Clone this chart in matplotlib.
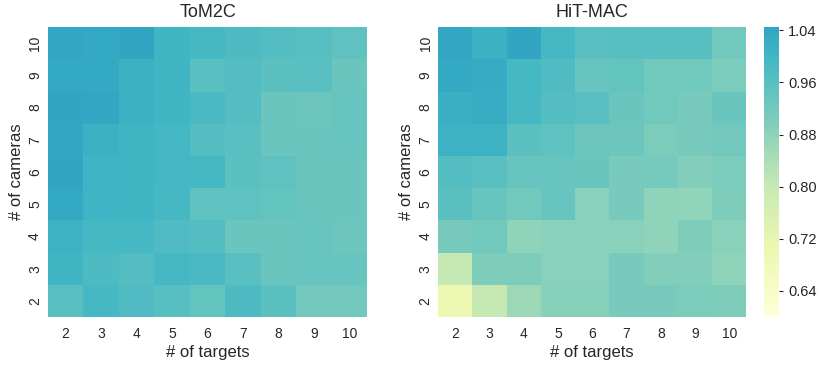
#!/usr/bin/env python3

import numpy as np
import matplotlib
matplotlib.use('Agg')
import matplotlib.pyplot as plt
import seaborn as sns

sns.set_style('white')
plt.rcParams['font.family'] = ['Liberation Sans', 'DejaVu Sans']

# Number of targets (columns) and cameras (rows, top to bottom).
targets = [2, 3, 4, 5, 6, 7, 8, 9, 10]
cameras = [10, 9, 8, 7, 6, 5, 4, 3, 2]

tom2c = np.array([
    [1.040, 1.035, 1.045, 1.000, 0.990, 0.980, 0.970, 0.965, 0.950],
    [1.035, 1.035, 1.015, 1.000, 0.960, 0.970, 0.955, 0.960, 0.935],
    [1.045, 1.040, 1.015, 1.000, 0.985, 0.970, 0.935, 0.930, 0.940],
    [1.040, 1.015, 1.000, 0.995, 0.970, 0.960, 0.935, 0.935, 0.940],
    [1.045, 1.005, 1.000, 0.995, 0.990, 0.955, 0.950, 0.935, 0.935],
    [1.035, 1.005, 1.000, 0.990, 0.950, 0.950, 0.945, 0.935, 0.935],
    [1.010, 0.990, 0.990, 0.975, 0.970, 0.935, 0.935, 0.940, 0.930],
    [1.000, 0.980, 0.970, 0.990, 0.985, 0.960, 0.935, 0.940, 0.940],
    [0.960, 0.990, 0.975, 0.965, 0.945, 0.980, 0.955, 0.920, 0.920],
])

hitmac = np.array([
    [1.040, 1.015, 1.045, 0.990, 0.960, 0.965, 0.965, 0.965, 0.925],
    [1.035, 1.030, 0.990, 0.975, 0.940, 0.945, 0.925, 0.925, 0.905],
    [1.020, 1.025, 0.990, 0.970, 0.960, 0.935, 0.925, 0.910, 0.935],
    [1.010, 1.010, 0.955, 0.950, 0.930, 0.930, 0.905, 0.910, 0.920],
    [0.970, 0.960, 0.940, 0.940, 0.935, 0.910, 0.915, 0.895, 0.905],
    [0.955, 0.940, 0.925, 0.940, 0.885, 0.910, 0.880, 0.875, 0.900],
    [0.910, 0.925, 0.880, 0.885, 0.885, 0.885, 0.880, 0.900, 0.885],
    [0.800, 0.900, 0.900, 0.885, 0.885, 0.910, 0.895, 0.895, 0.880],
    [0.700, 0.800, 0.860, 0.890, 0.890, 0.910, 0.910, 0.905, 0.900],
])

cbar_ticks = [0.64, 0.72, 0.80, 0.88, 0.96, 1.04]

vmin = 0.6
vmax = max(tom2c.max(), hitmac.max())

fig = plt.figure(figsize=(8.22, 3.66), dpi=100)
ax1 = fig.add_axes([0.058, 0.134, 0.389, 0.792])
ax2 = fig.add_axes([0.533, 0.134, 0.375, 0.792])
cax = fig.add_axes([0.929, 0.134, 0.019, 0.792])

sns.heatmap(tom2c, ax=ax1, cmap='YlGnBu', vmin=vmin, vmax=vmax, center=1.0,
            xticklabels=targets, yticklabels=cameras, cbar=False)
sns.heatmap(hitmac, ax=ax2, cmap='YlGnBu', vmin=vmin, vmax=vmax, center=1.0,
            xticklabels=targets, yticklabels=cameras, cbar_ax=cax,
            cbar_kws={'ticks': cbar_ticks})

for ax, title in [(ax1, 'ToM2C'), (ax2, 'HiT-MAC')]:
    ax.set_title(title, fontsize=13, color='#262626', pad=7)
    ax.set_xlabel('# of targets', fontsize=12, color='#262626', labelpad=3)
    ax.set_ylabel('# of cameras', fontsize=12, color='#262626', labelpad=3)
    ax.tick_params(axis='both', length=0, labelsize=10, colors='#262626')
    ax.tick_params(axis='x', pad=7)
    ax.tick_params(axis='y', pad=4)
    plt.setp(ax.get_yticklabels(), rotation=90, va='center')
    plt.setp(ax.get_xticklabels(), rotation=0)

cax.tick_params(labelsize=10.5, length=3, width=0.8, colors='#262626')
cax.set_yticklabels(['%.2f' % t for t in cbar_ticks])
for s in cax.spines.values():
    s.set_visible(False)

fig.savefig('out.png', dpi=100)
